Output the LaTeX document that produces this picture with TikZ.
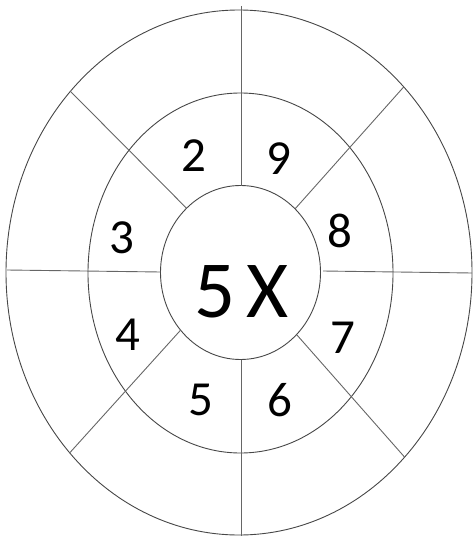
\documentclass[tikz,border=0pt]{standalone}
\usepackage{fontspec}
\setmainfont{Carlito}
\usetikzlibrary{calc}
\begin{document}
\begin{tikzpicture}[x=1pt,y=-1pt,
  ring/.style={draw=black!72, line width=0.9pt},
  spoke/.style={draw=black!60, line width=0.9pt},
  num/.style={font=\fontsize{49}{49}\selectfont, inner sep=0pt},
  big/.style={font=\fontsize{81}{81}\selectfont, inner sep=0pt}]
\useasboundingbox (0,0) rectangle (473,540);
\coordinate (co) at (239,272.5);
\coordinate (cm) at (240.5,273);
\coordinate (ci) at (240.5,272.5);
\draw[ring] (co) ellipse [x radius=233pt, y radius=262.5pt];
\draw[ring] (cm) ellipse [x radius=152.5pt, y radius=180pt];
\draw[ring] (ci) ellipse [x radius=80pt, y radius=87pt];
% spoke end points
\coordinate (t1) at (241.5,6);
\coordinate (t2) at (241.5,185.5);
\coordinate (b1) at (241.5,359.5);
\coordinate (b2) at (241.5,536);
\coordinate (l1) at (7,270);
\coordinate (l2) at (160.5,272);
\coordinate (r1) at (323,271);
\coordinate (r2) at (472,273);
\coordinate (nwo) at ($(co)+(136.35:233pt and 262.5pt)$);
\coordinate (nwi) at ($(ci)+(132.4:80pt and 87pt)$);
\coordinate (neo) at ($(co)+(45:233pt and 262.5pt)$);
\coordinate (nei) at ($(ci)+(47:80pt and 87pt)$);
\coordinate (swo) at ($(co)+(223.4:233pt and 262.5pt)$);
\coordinate (swi) at ($(ci)+(221.5:80pt and 87pt)$);
\coordinate (seo) at ($(co)+(315.3:233pt and 262.5pt)$);
\coordinate (sei) at ($(ci)+(314.5:80pt and 87pt)$);
\draw[spoke] (t1) -- (t2);
\draw[spoke] (b1) -- (b2);
\draw[spoke] (l1) -- (l2);
\draw[spoke] (r1) -- (r2);
\draw[spoke] (nwo) -- (nwi);
\draw[spoke] (neo) -- (nei);
\draw[spoke] (swo) -- (swi);
\draw[spoke] (seo) -- (sei);
% labels
\node[num] (n2) at (194,156) {2};
\node[num] (n9) at (279,159) {9};
\node[num] (n3) at (122,238) {3};
\node[num] (n8) at (340,231) {8};
\node[num] (n4) at (128,335) {4};
\node[num] (n7) at (343,338) {7};
\node[num] (n5) at (201,400) {5};
\node[num] (n6) at (280,400) {6};
\node[big] (mid) at (241.5,292) {5\kern11ptX};
\end{tikzpicture}
\end{document}
